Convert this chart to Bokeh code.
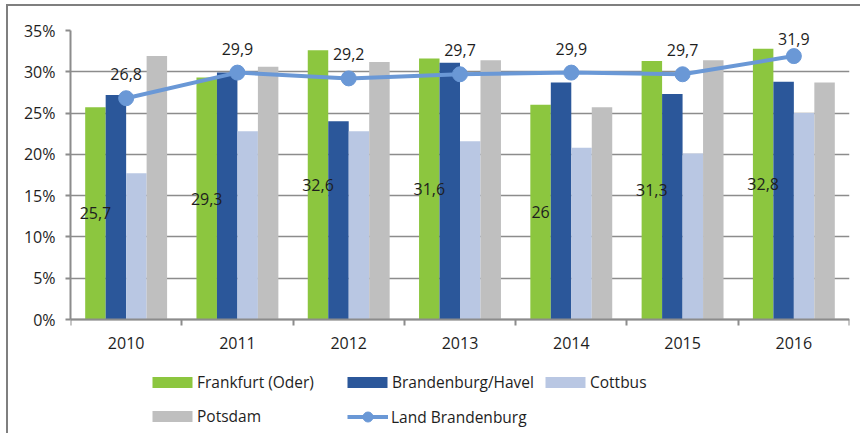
from bokeh.plotting import figure
from bokeh.models import (ColumnDataSource, Range1d, FixedTicker, PrintfTickFormatter,
                          Legend, LegendItem)
from bokeh.transform import dodge
from bokeh.core.properties import value
from bokeh.embed import file_html
from bokeh.resources import INLINE

# ---- data ----
years = ["2010", "2011", "2012", "2013", "2014", "2015", "2016"]
frankfurt = [25.7, 29.3, 32.6, 31.6, 26.0, 31.3, 32.8]
brandenburg_havel = [27.2, 29.9, 24.0, 31.1, 28.7, 27.3, 28.8]
cottbus = [17.7, 22.8, 22.8, 21.6, 20.8, 20.1, 25.0]
potsdam = [31.9, 30.6, 31.2, 31.4, 25.7, 31.4, 28.7]
land_brandenburg = [26.8, 29.9, 29.2, 29.7, 29.9, 29.7, 31.9]
y_ticks = [0, 5, 10, 15, 20, 25, 30, 35]
series_names = ["Frankfurt (Oder)", "Brandenburg/Havel", "Cottbus", "Potsdam", "Land Brandenburg"]

FONT = "Open Sans"
GREEN = "#8cc63f"
DARK = "#2b579a"
LIGHT = "#b9c7e3"
GRAY = "#bfbfbf"
LINE = "#6a98d6"
AXIS = "#8c8c8c"
TEXT = "#1e1e1e"

# ---- layout geometry (pixels inside the canvas) ----
W, H = 854, 429
TOP, ZERO = 24, 313            # canvas y of the 35% line and of the 0% line
Y_MAX = 35
PX = (ZERO - TOP) / Y_MAX      # pixels per percentage point
Y_MIN = -(H - ZERO) / PX       # frame continues below the axis to hold the legend
ROW1_Y, ROW2_Y = 377, 410.5    # canvas y of the legend rows' centres


def de(v):
    return ("%g" % v).replace(".", ",")


xs = [i + 0.5 for i in range(len(years))]
src = ColumnDataSource(dict(
    x=xs,
    frank=frankfurt,
    havel=brandenburg_havel,
    cott=cottbus,
    pots=potsdam,
    land=land_brandenburg,
    frank_mid=[v / 2 for v in frankfurt],
    frank_lbl=[de(v) for v in frankfurt],
    land_lbl_y=[min(v + 24 / PX, Y_MAX - 8 / PX) for v in land_brandenburg],
    land_lbl=[de(v) for v in land_brandenburg],
))

p = figure(width=W, height=H, x_range=Range1d(0, len(years)), y_range=Range1d(Y_MIN, Y_MAX),
           output_backend="svg", toolbar_location=None,
           min_border_left=62, min_border_right=13, min_border_top=TOP, min_border_bottom=0)
# frame of the picture: only its top and left edges are visible in the reference
p.styles = {"position": "relative", "left": "8px", "top": "6px", "border": "none",
            "box-shadow": "-2px -2px 0 0 #7f7f7f"}
p.outline_line_color = None
p.background_fill_color = "white"
p.border_fill_color = "white"

# grid
p.xgrid.visible = False
p.ygrid.ticker = FixedTicker(ticks=y_ticks)
p.ygrid.grid_line_color = AXIS
p.ygrid.grid_line_width = 1.5

# y axis
ya = p.yaxis[0]
ya.ticker = FixedTicker(ticks=y_ticks)
ya.bounds = (0, Y_MAX)
ya.formatter = PrintfTickFormatter(format="%d%%")
ya.axis_line_color = AXIS
ya.axis_line_width = 2
ya.major_tick_line_color = AXIS
ya.major_tick_line_width = 2
ya.major_tick_out = 5
ya.major_tick_in = 0
ya.minor_tick_line_color = None
ya.major_label_standoff = 10
ya.major_label_text_font = FONT
ya.major_label_text_font_size = "16px"
ya.major_label_text_color = TEXT

# x axis: drawn at 0%, labels at centres, tick marks at category boundaries
xa = p.xaxis[0]
xa.fixed_location = 0
xa.ticker = FixedTicker(ticks=xs, minor_ticks=list(range(len(years) + 1)))
xa.major_label_overrides = {x: y for x, y in zip(xs, years)}
xa.axis_line_color = AXIS
xa.axis_line_width = 2
xa.major_tick_line_color = None
xa.major_tick_out = 0
xa.major_tick_in = 0
xa.minor_tick_line_color = AXIS
xa.minor_tick_line_width = 2
xa.minor_tick_out = 6
xa.minor_tick_in = 0
xa.major_label_standoff = 11
xa.major_label_text_font = FONT
xa.major_label_text_font_size = "16px"
xa.major_label_text_color = TEXT

# bars
bw = 0.184
offs = [-1.5 * bw, -0.5 * bw, 0.5 * bw, 1.5 * bw]
r_frank = p.vbar(x=dodge("x", offs[0], range=p.x_range), top="frank", width=bw, source=src,
                 fill_color=GREEN, line_color=None)
r_havel = p.vbar(x=dodge("x", offs[1], range=p.x_range), top="havel", width=bw, source=src,
                 fill_color=DARK, line_color=None)
r_cott = p.vbar(x=dodge("x", offs[2], range=p.x_range), top="cott", width=bw, source=src,
                fill_color=LIGHT, line_color=None)
r_pots = p.vbar(x=dodge("x", offs[3], range=p.x_range), top="pots", width=bw, source=src,
                fill_color=GRAY, line_color=None)

# Frankfurt labels in the middle of the green bars
p.text(x=dodge("x", offs[0], range=p.x_range), y="frank_mid", text="frank_lbl", source=src,
       text_align="center", text_baseline="middle", text_font=value(FONT),
       text_font_size="16px", text_color=TEXT)

# line
r_line = p.line(x="x", y="land", source=src, line_color=LINE, line_width=4)
r_pts = p.scatter(x="x", y="land", source=src, size=15, fill_color=LINE, line_color=LINE)
p.text(x="x", y="land_lbl_y", text="land_lbl", source=src,
       text_align="center", text_baseline="middle", text_font=value(FONT),
       text_font_size="16px", text_color=TEXT)


def add_legend(name, renderers, vx, row_y, gw, gh, item_h, standoff):
    lg = Legend(items=[LegendItem(label=name, renderers=renderers)],
                location=(vx, H - row_y - item_h / 2),
                orientation="horizontal", glyph_width=gw, glyph_height=gh,
                label_standoff=standoff, label_height=gh, padding=0, margin=0, spacing=0,
                border_line_color=None, background_fill_alpha=0,
                label_text_font=FONT, label_text_font_size="15.5px", label_text_color=TEXT)
    p.add_layout(lg)


add_legend(series_names[0], [r_frank], 77, ROW1_Y, 50, 14, 20, 0)
add_legend(series_names[1], [r_havel], 272, ROW1_Y, 50, 14, 20, 0)
add_legend(series_names[2], [r_cott], 470, ROW1_Y, 50, 14, 20, 0)
add_legend(series_names[3], [r_pots], 77, ROW2_Y, 50, 14, 20, 0)
add_legend(series_names[4], [r_line, r_pts], 277, ROW2_Y, 41, 25, 25, 3)

open("out.html", "w").write(file_html(p, INLINE))
